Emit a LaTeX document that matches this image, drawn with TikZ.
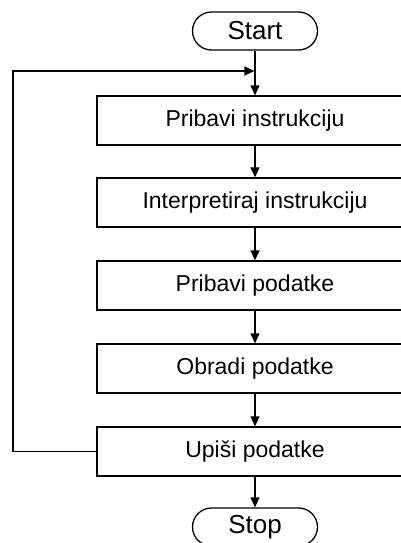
\documentclass[tikz,border=0pt]{standalone}
\usepackage{fontspec}
\setmainfont{Liberation Sans}
\usetikzlibrary{arrows.meta}
\begin{document}
\begin{tikzpicture}[x=1pt,y=-1pt,
  line width=1.3pt,
  stepbox/.style={draw, rectangle, minimum width=316pt, minimum height=49pt,
    inner sep=0pt, font=\fontsize{23}{27}\selectfont},
  terminal/.style={draw, rectangle, rounded corners=19pt, minimum width=125pt,
    minimum height=38pt, inner sep=0pt, font=\fontsize{26}{30}\selectfont},
  flow/.style={-{Triangle[length=10pt,width=9pt]}}]
  \useasboundingbox (0,0) rectangle (401,543);
  \clip (0,0) rectangle (401,543);

  % terminals and process steps
  \node[terminal] (start) at (255,31) {Start};
  \node[stepbox] (s1) at (255,120.5) {Pribavi instrukciju};
  \node[stepbox] (s2) at (255,202.5) {Interpretiraj instrukciju};
  \node[stepbox] (s3) at (255,285.5) {Pribavi podatke};
  \node[stepbox] (s4) at (255,368.5) {Obradi podatke};
  \node[stepbox] (s5) at (255,451.5) {Upiši podatke};
  \node[terminal] (stop) at (255,527) {Stop};

  % main flow
  \draw[flow] (start) -- (s1);
  \draw[flow] (s1) -- (s2);
  \draw[flow] (s2) -- (s3);
  \draw[flow] (s3) -- (s4);
  \draw[flow] (s4) -- (s5);
  \draw[flow] (s5) -- (stop);

  % loop back to the fetch step
  \coordinate (join) at (255,71);
  \draw[flow] (s5.west) -- (13,451.5) -- (13,71) -- ([xshift=-0.6pt]join);
\end{tikzpicture}
\end{document}
